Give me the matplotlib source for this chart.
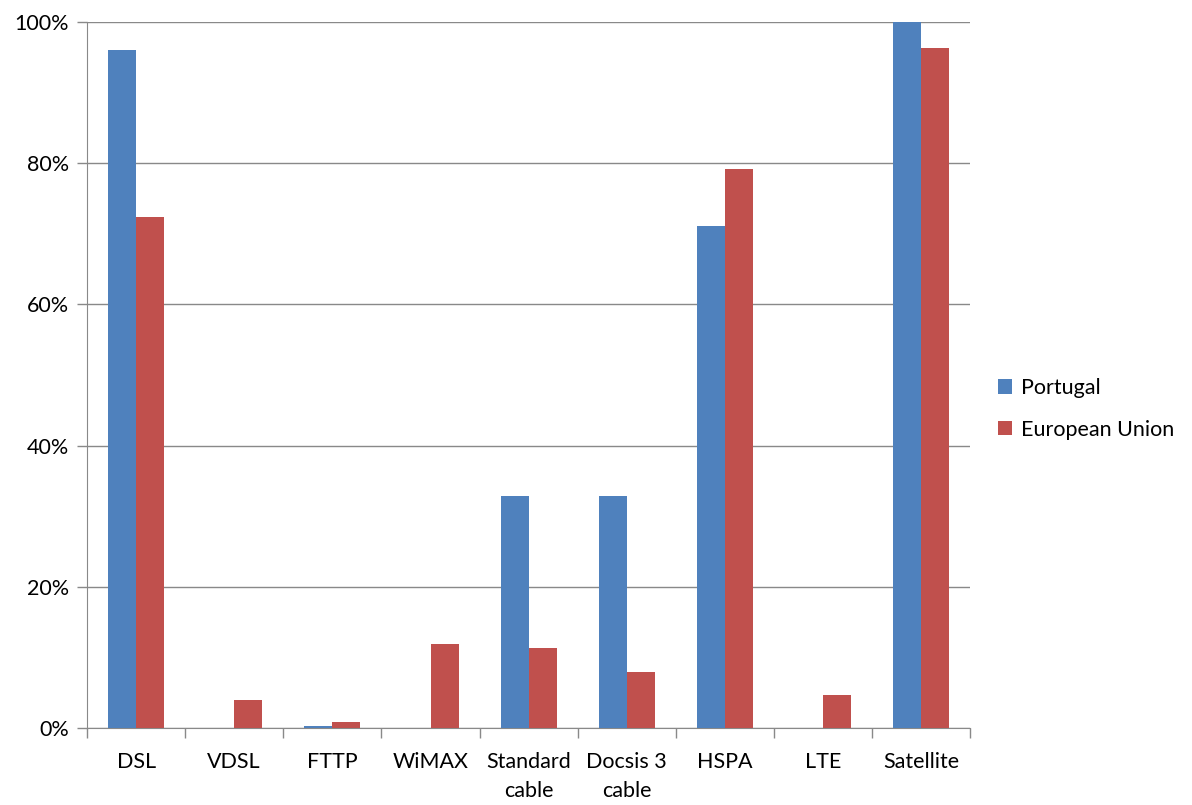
import numpy as np
import matplotlib.pyplot as plt
from matplotlib.ticker import PercentFormatter

plt.rcParams['font.family'] = ['Lato', 'DejaVu Sans']

# Data
categories = ["DSL", "VDSL", "FTTP", "WiMAX", "Standard\ncable", "Docsis 3\ncable",
              "HSPA", "LTE", "Satellite"]
portugal = [96.0, 0.0, 0.3, 0.0, 32.9, 32.9, 71.1, 0.0, 100.0]
eu = [72.4, 4.0, 0.9, 11.9, 11.3, 7.9, 79.2, 4.7, 96.3]

blue = "#4F81BD"
red = "#C0504D"
grey = "#898989"

fig = plt.figure(figsize=(11.92, 8.05), dpi=100)
ax = fig.add_axes([0.073, 0.0957, 0.741, 0.877])

x = np.arange(len(categories))
w = 1 / 3.5
ax.bar(x - w / 2, portugal, w, color=blue, label="Portugal", zorder=3)
ax.bar(x + w / 2, eu, w, color=red, label="European Union", zorder=3)

ax.set_xlim(-0.5, len(categories) - 0.5)
ax.set_ylim(0, 100)
ax.set_yticks(range(0, 101, 20))
ax.yaxis.set_major_formatter(PercentFormatter(decimals=0))
ax.grid(axis="y", color=grey, linewidth=1, zorder=0)

# category labels centred, tick marks between categories
ax.set_xticks(x)
ax.set_xticklabels(categories, linespacing=1.6)
ax.set_xticks(np.arange(-0.5, len(categories)), minor=True)
ax.tick_params(axis="x", which="major", length=0, pad=17, labelsize=15.5)
ax.tick_params(axis="x", which="minor", length=7, color=grey, width=1)
ax.tick_params(axis="y", length=7, color=grey, width=1, pad=6, labelsize=15.5)

for side in ["top", "right"]:
    ax.spines[side].set_visible(False)
for side in ["left", "bottom"]:
    ax.spines[side].set_color(grey)

ax.legend(loc="center left", bbox_to_anchor=(1.01, 0.452), frameon=False,
          fontsize=15.5, handlelength=0.65, handleheight=0.65, labelspacing=1.0,
          handletextpad=0.4)

fig.savefig("out.png", dpi=100)
